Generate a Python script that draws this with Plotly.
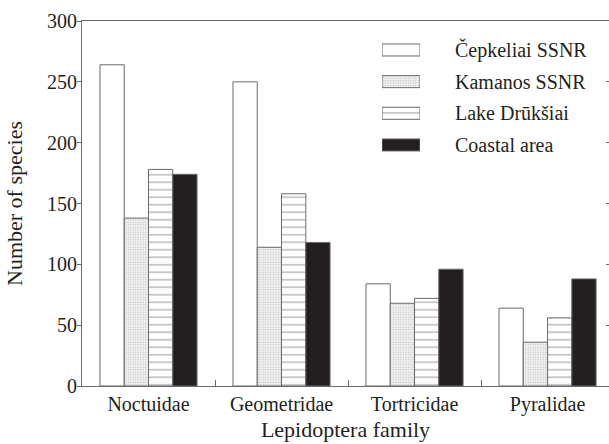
import plotly.graph_objects as go

families = ["Noctuidae", "Geometridae", "Tortricidae", "Pyralidae"]
series_names = ["Čepkeliai SSNR", "Kamanos SSNR", "Lake Drūkšiai", "Coastal area"]
cepkeliai = [264, 250, 84, 64]
kamanos = [138, 114, 68, 36]
lake = [178, 158, 72, 56]
coastal = [174, 118, 96, 88]
y_ticks = [0, 50, 100, 150, 200, 250, 300]

FONT = "Liberation Serif"
INK = "#231f20"
EDGE = "#6a6a6a"

styles = [
    dict(color="white", pattern=None),
    dict(color="white", pattern=dict(shape=".", fgcolor="#9a9a9a", bgcolor="#f4f4f4", size=2.5, solidity=0.35)),
    dict(color="white", pattern=dict(shape="-", fgcolor="#3a3a3a", bgcolor="white", size=7.5, solidity=0.14)),
    dict(color=INK, pattern=None),
]
values = [cepkeliai, kamanos, lake, coastal]

fig = go.Figure()
for name, vals, st in zip(series_names, values, styles):
    marker = dict(color=st["color"], line=dict(color=EDGE, width=1))
    if st["pattern"]:
        marker["pattern"] = st["pattern"]
    fig.add_trace(go.Bar(x=families, y=vals, name=name, marker=marker,
                         showlegend=False, xaxis="x", yaxis="y"))

# custom legend: swatches drawn as bars on a small overlay axis
for name, st in zip(series_names, styles):
    marker = dict(color=st["color"], line=dict(color=EDGE, width=1))
    if st["pattern"]:
        marker["pattern"] = st["pattern"]
    fig.add_trace(go.Bar(y=[name], x=[1], orientation="h", width=0.38,
                         marker=marker, showlegend=False, hoverinfo="skip",
                         xaxis="x2", yaxis="y2"))

# right-side inward ticks (cropped frame)
fig.add_trace(go.Scatter(x=[None], y=[None], xaxis="x", yaxis="y3", showlegend=False))

fig.update_layout(
    width=609, height=444,
    margin=dict(l=82, r=0, t=21, b=58),
    paper_bgcolor="white", plot_bgcolor="white",
    barmode="group", bargap=0.27, bargroupgap=0,
    font=dict(family=FONT, color=INK, size=20),
    showlegend=False,
    xaxis=dict(
        domain=[0, 1], range=[-0.5, 3.462], type="category",
        showline=True, linecolor=EDGE, linewidth=1, mirror=True,
        ticks="inside", tickson="boundaries", ticklen=6, tickcolor=EDGE,
        showgrid=False, zeroline=False,
        tickfont=dict(family=FONT, size=20),
        title=dict(text="Lepidoptera family", font=dict(family=FONT, size=22), standoff=6),
    ),
    yaxis=dict(
        domain=[0, 1], range=[0, 300], tickvals=y_ticks,
        showline=True, linecolor=EDGE, linewidth=1,
        ticks="outside", ticklen=4, tickcolor=EDGE,
        ticklabelstandoff=-4,
        showgrid=False, zeroline=False,
        tickfont=dict(family=FONT, size=20),
        title=dict(text="Number of species", font=dict(family=FONT, size=22), standoff=18),
    ),
    yaxis3=dict(
        overlaying="y", side="right", anchor="x", range=[0, 300], tickvals=y_ticks,
        showticklabels=False, ticks="inside", ticklen=3, tickcolor=EDGE,
        showline=False, showgrid=False, zeroline=False,
    ),
    xaxis2=dict(
        domain=[0.5693, 0.6414], range=[0, 1], anchor="y2",
        showline=False, showgrid=False, zeroline=False, showticklabels=False, ticks="",
    ),
    yaxis2=dict(
        domain=[0.617, 0.964], anchor="x2", side="right", type="category",
        categoryorder="array", categoryarray=series_names, autorange="reversed",
        showline=False, showgrid=False, zeroline=False,
        ticks="outside", ticklen=30, tickcolor="rgba(0,0,0,0)",
        tickfont=dict(family=FONT, size=20),
    ),
)

fig.write_html("out.html", config={"displayModeBar": False},
               post_script="document.body.style.margin='0';document.body.style.overflow='hidden';")
